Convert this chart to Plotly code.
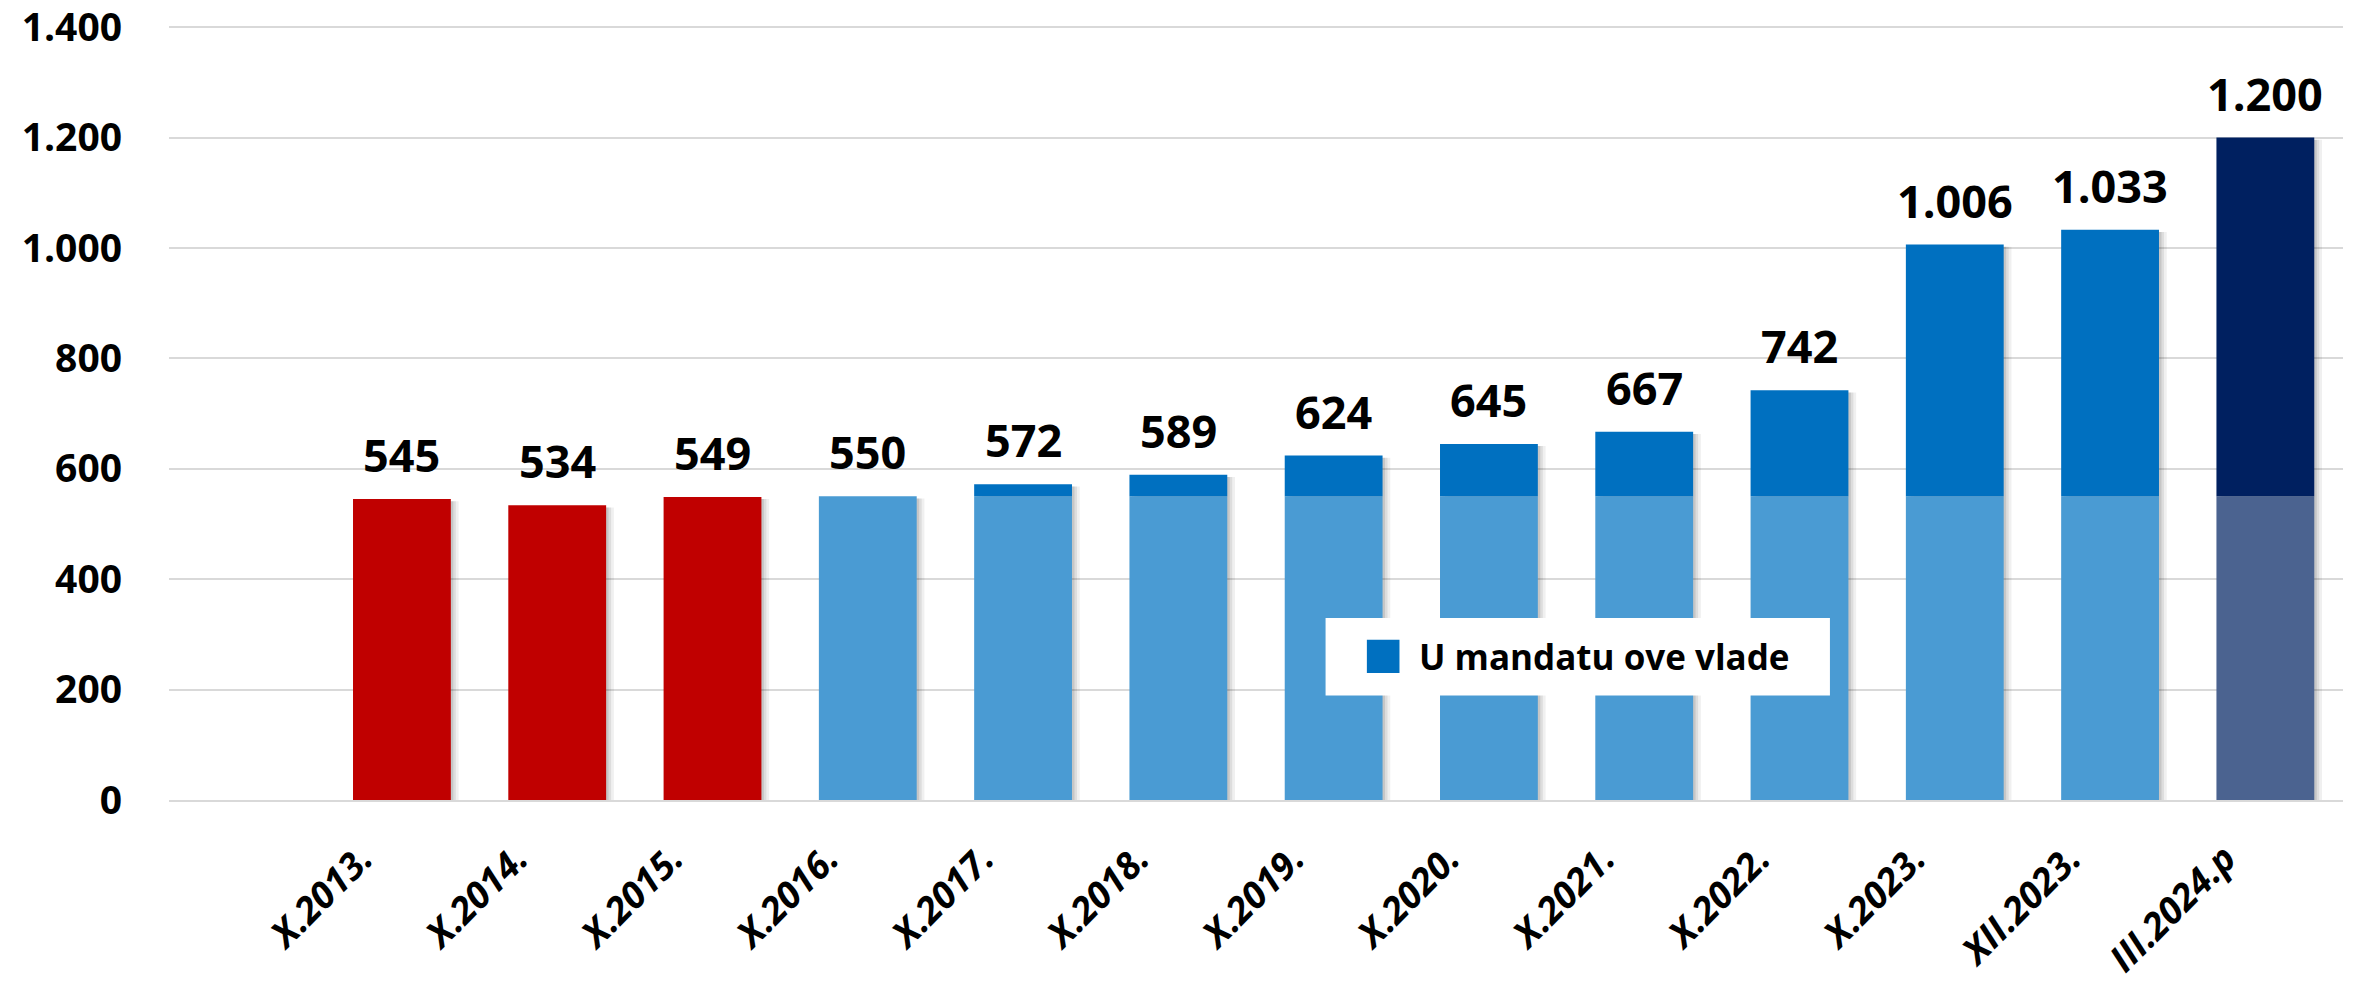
import plotly.graph_objects as go

# data
labels = ["X.2013.", "X.2014.", "X.2015.", "X.2016.", "X.2017.", "X.2018.", "X.2019.",
          "X.2020.", "X.2021.", "X.2022.", "X.2023.", "XII.2023.", "III.2024.p"]
totals = [545, 534, 549, 550, 572, 589, 624, 645, 667, 742, 1006, 1033, 1200]
n_prev = 3          # bars before the current government
base_level = 550    # level at start of the current mandate
legend_text = "U mandatu ove vlade"
y_ticks = [0, 200, 400, 600, 800, 1000, 1200, 1400]

# colours
RED = "#C00000"
LIGHT = "#4A9BD3"
DARK = "#0070C0"
NAVY = "#002060"
NAVY_LIGHT = "#4B6390"
GRID = "#D9D9D9"
FONT = "Open Sans"

n = len(labels)
lower = [min(t, base_level) if i >= n_prev else t for i, t in enumerate(totals)]
upper = [max(t - base_level, 0) if i >= n_prev else 0 for i, t in enumerate(totals)]
lower_colors = [RED] * n_prev + [LIGHT] * (n - n_prev - 1) + [NAVY_LIGHT]
upper_colors = [DARK] * (n - 1) + [NAVY]

W = 0.63
fig = go.Figure()

# soft drop shadow
for dx, alpha in [(0.05, 0.06), (0.032, 0.08), (0.016, 0.10)]:
    fig.add_trace(go.Bar(
        x=labels, y=[t + 6 for t in totals], base=-10,
        width=W, offset=-W / 2 + dx,
        marker=dict(color=f"rgba(0,0,0,{alpha})", line_width=0),
        hoverinfo="skip", showlegend=False,
    ))

fig.add_trace(go.Bar(
    x=labels, y=lower, width=W, offset=-W / 2,
    marker=dict(color=lower_colors, line_width=0),
    showlegend=False,
))
fig.add_trace(go.Bar(
    x=labels, y=upper, base=base_level, width=W, offset=-W / 2,
    marker=dict(color=upper_colors, line_width=0),
    showlegend=False,
))

# value labels
for lab, t in zip(labels, totals):
    fig.add_annotation(
        x=lab, y=t, text=f"{t:,}".replace(",", "."),
        showarrow=False, yanchor="bottom", yshift=12,
        font=dict(family=FONT, size=45, color="black", weight="bold"),
    )

# legend box (drawn manually to get the large swatch)
fig.add_shape(type="rect", xref="paper", yref="paper",
              x0=0.532, x1=0.764, y0=0.135, y1=0.235,
              fillcolor="white", line_width=0, layer="above")
fig.add_shape(type="rect", xref="paper", yref="paper",
              x0=0.551, x1=0.566, y0=0.164, y1=0.207,
              fillcolor=DARK, line_width=0, layer="above")
fig.add_annotation(
    xref="paper", yref="paper", x=0.574, y=0.186,
    xanchor="left", yanchor="middle", showarrow=False,
    text=legend_text,
    font=dict(family=FONT, size=35, color="black", weight="bold"),
)

# page body has an 8px margin, so the figure is drawn 8px smaller
fig.update_layout(
    width=2345, height=986,
    paper_bgcolor="white", plot_bgcolor="white",
    barmode="overlay",
    separators=",.",
    margin=dict(l=161, r=10, t=18, b=194),
    showlegend=False,
    xaxis=dict(
        range=[-1.5, n - 0.5],
        tickangle=-45,
        tickfont=dict(family=FONT, size=37, color="black", weight="bold", style="italic"),
        ticklabelstandoff=20,
        ticklabelshift=-40,
        ticklabeloverflow="allow",
        showgrid=False, showline=True, linecolor=GRID, linewidth=2,
        ticks="", automargin=False,
    ),
    yaxis=dict(
        range=[0, 1402],
        tickvals=y_ticks,
        tickformat=",d",
        tickfont=dict(family=FONT, size=39, color="black", weight="bold"),
        ticklabelstandoff=46,
        ticklabeloverflow="allow",
        showgrid=True, gridcolor=GRID, gridwidth=2,
        zeroline=False, showline=False, ticks="", automargin=False,
    ),
)

fig.write_html("out.html")
